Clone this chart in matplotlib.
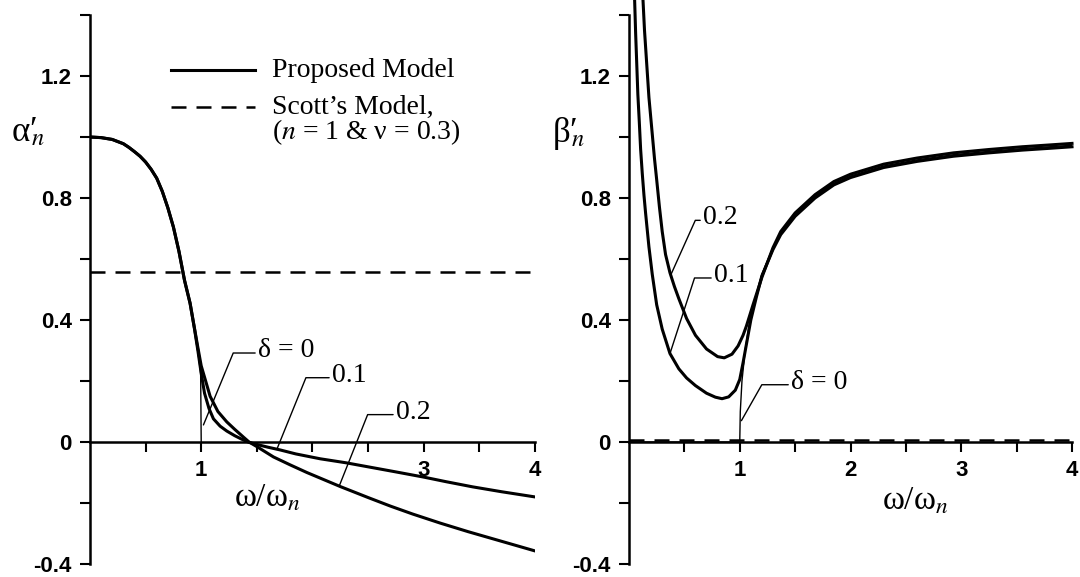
import matplotlib.pyplot as plt

# fonts: Times-like text, Helvetica-like tick numbers
plt.rcParams['font.family'] = 'Liberation Serif'
plt.rcParams['mathtext.fontset'] = 'stix'
SANS = 'Liberation Sans'

# ---- values ----
# left panel, alpha_n' (proposed model, delta = 0, 0.1, 0.2)
w_a0 = [0.0, 0.1, 0.2, 0.3, 0.35, 0.4, 0.45, 0.5, 0.55, 0.6, 0.65, 0.7, 0.75, 0.8, 0.85, 0.9, 0.94,
        0.97, 0.985, 0.995, 1.0]
alpha_d0 = [1.0, 0.998, 0.992, 0.978, 0.966, 0.952, 0.937, 0.918, 0.894, 0.865, 0.822, 0.768, 0.705,
            0.625, 0.53, 0.455, 0.37, 0.295, 0.255, 0.225, 0.0]

w_a1 = [0.0, 0.1, 0.2, 0.3, 0.35, 0.4, 0.45, 0.5, 0.55, 0.6, 0.65, 0.7, 0.75, 0.8, 0.85, 0.9, 0.94,
        0.97, 0.99, 1.0, 1.03, 1.07, 1.11, 1.17, 1.23, 1.3, 1.36, 1.42, 1.5, 1.6, 1.71, 1.85, 2.07, 2.3,
        2.54, 2.75, 3.0, 3.2, 3.44, 3.7, 4.0]
alpha_d1 = [1.0, 0.998, 0.992, 0.978, 0.966, 0.952, 0.937, 0.918, 0.894, 0.865, 0.822, 0.768, 0.705,
            0.625, 0.53, 0.455, 0.37, 0.30, 0.25, 0.225, 0.16, 0.11, 0.076, 0.052, 0.036, 0.021, 0.01,
            0.0, -0.008, -0.017, -0.026, -0.039, -0.055, -0.068, -0.084, -0.098, -0.115, -0.13, -0.147,
            -0.163, -0.18]

w_a2 = [0.0, 0.1, 0.2, 0.3, 0.35, 0.4, 0.45, 0.5, 0.55, 0.6, 0.65, 0.7, 0.75, 0.8, 0.85, 0.9, 0.94,
        0.97, 0.99, 1.0, 1.04, 1.08, 1.15, 1.23, 1.3, 1.38, 1.43, 1.5, 1.65, 1.8, 1.95, 2.1, 2.25, 2.5,
        2.7, 2.9, 3.15, 3.4, 3.6, 3.8, 4.0]
alpha_d2 = [1.0, 0.998, 0.992, 0.978, 0.966, 0.952, 0.937, 0.918, 0.894, 0.865, 0.822, 0.768, 0.705,
            0.625, 0.53, 0.455, 0.372, 0.31, 0.27, 0.25, 0.2, 0.15, 0.1, 0.066, 0.042, 0.016, 0.0,
            -0.015, -0.049, -0.075, -0.1, -0.123, -0.146, -0.182, -0.21, -0.236, -0.266, -0.294,
            -0.315, -0.336, -0.357]

# right panel, beta_n'
w_b0 = [0.0, 1.0, 1.005, 1.02, 1.05, 1.1, 1.15, 1.2, 1.3, 1.37, 1.5, 1.68, 1.85, 2.0, 2.3, 2.6, 2.93,
        3.25, 3.55, 3.8, 4.0]
beta_d0 = [0.0, 0.0, 0.1, 0.2, 0.305, 0.42, 0.48, 0.55, 0.635, 0.685, 0.745, 0.805, 0.848, 0.872, 0.905,
           0.925, 0.942, 0.953, 0.962, 0.968, 0.973]

w_b1 = [0.05, 0.06, 0.07, 0.08, 0.093, 0.105, 0.12, 0.135, 0.15, 0.165, 0.18, 0.21, 0.25, 0.3, 0.37,
        0.45, 0.52, 0.6, 0.7, 0.78, 0.84, 0.9, 0.96, 1.0, 1.03, 1.06, 1.1, 1.15, 1.2, 1.3, 1.37, 1.5,
        1.68, 1.85, 2.0, 2.3, 2.6, 2.93, 3.25, 3.55, 3.8, 4.0]
beta_d1 = [1.46, 1.34, 1.24, 1.14, 1.05, 0.96, 0.88, 0.81, 0.75, 0.695, 0.64, 0.55, 0.45, 0.37, 0.29,
           0.24, 0.21, 0.185, 0.16, 0.147, 0.142, 0.148, 0.17, 0.205, 0.26, 0.32, 0.40, 0.475, 0.545,
           0.631, 0.680, 0.740, 0.800, 0.843, 0.867, 0.900, 0.920, 0.937, 0.948, 0.957, 0.963, 0.968]

w_b2 = [0.125, 0.14, 0.16, 0.18, 0.205, 0.23, 0.25, 0.275, 0.3, 0.33, 0.37, 0.41, 0.45, 0.52, 0.6, 0.7,
        0.8, 0.86, 0.93, 0.985, 1.03, 1.06, 1.12, 1.2, 1.3, 1.37, 1.5, 1.68, 1.85, 2.0, 2.3, 2.6, 2.93,
        3.25, 3.55, 3.8, 4.0]
beta_d2 = [1.46, 1.35, 1.24, 1.13, 1.03, 0.93, 0.86, 0.77, 0.69, 0.615, 0.555, 0.51, 0.47, 0.405, 0.35,
           0.305, 0.28, 0.276, 0.288, 0.315, 0.35, 0.38, 0.45, 0.54, 0.637, 0.690, 0.751, 0.811, 0.854,
           0.878, 0.911, 0.931, 0.948, 0.959, 0.968, 0.974, 0.979]

# Scott's model (constant)
scott_alpha = 0.556
scott_beta = 0.005

# axis ticks
x_major = [1, 2, 3, 4]
x_minor = [0.5, 1.5, 2.5, 3.5]
left_xticklabels = ['1', '', '3', '4']   # the "2" is lost under the curves in the original
right_xticklabels = ['1', '2', '3', '4']
y_major = [-0.4, 0.0, 0.4, 0.8, 1.2]
y_minor = [-0.2, 0.2, 0.6, 1.0, 1.4]
y_ticklabels = ['-0.4', '0', '0.4', '0.8', '1.2']

THICK = 2.2
THIN = 1.0
DASH = (6, 4)
TXT = 20


def style_axes(ax, xticklabels):
    ax.set_xlim(0, 4)
    ax.set_ylim(-0.4, 1.4)
    ax.patch.set_visible(False)
    ax.spines['top'].set_visible(False)
    ax.spines['right'].set_visible(False)
    ax.spines['bottom'].set_position(('data', 0))
    ax.spines['left'].set_linewidth(1.8)
    ax.spines['bottom'].set_linewidth(1.8)
    ax.set_xticks(x_major)
    ax.set_xticklabels(xticklabels)
    ax.set_xticks(x_minor, minor=True)
    ax.set_yticks(y_major)
    ax.set_yticklabels(y_ticklabels)
    ax.set_yticks(y_minor, minor=True)
    ax.tick_params(which='both', direction='out', length=7, width=1.5, color='black')
    ax.tick_params(which='major', labelsize=16, labelfontfamily=SANS, pad=6)
    for lab in ax.get_xticklabels() + ax.get_yticklabels():
        lab.set_fontweight('bold')


def leader(ax, text, point, text_pos, angle):
    ax.annotate(text, xy=point, xytext=text_pos, fontsize=TXT, ha='left', va='center',
                arrowprops=dict(arrowstyle='-', lw=1.0, color='black', shrinkA=0, shrinkB=0,
                                relpos=(0, 0.4),
                                connectionstyle='angle,angleA=0,angleB=%g,rad=0' % angle))


fig = plt.figure(figsize=(10.8, 5.77), dpi=100)
ax1 = fig.add_axes([0.0833, 0.0225, 0.412, 0.9515])
ax2 = fig.add_axes([0.5824, 0.0225, 0.4102, 0.9515])

# ---- left: alpha_n' ----
ax1.plot(w_a1, alpha_d1, color='black', lw=THICK)
ax1.plot(w_a2, alpha_d2, color='black', lw=THICK)
ax1.plot(w_a0, alpha_d0, color='black', lw=THIN)
ax1.axhline(scott_alpha, xmin=0, xmax=1, color='black', lw=1.8, dashes=DASH)
style_axes(ax1, left_xticklabels)
ax1.set_ylabel(r'α′$_{\!\!n}$', rotation=0, fontsize=25, ha='center', va='center')
ax1.yaxis.set_label_coords(-0.14, 0.785)
ax1.set_xlabel(r'ω/ω$_{n}$', fontsize=24, va='center')
ax1.xaxis.set_label_coords(0.398, 0.12)

leader(ax1, 'δ = 0', (1.02, 0.056), (1.51, 0.30), 67.5)
leader(ax1, '0.1', (1.68, -0.024), (2.175, 0.219), 67.9)
leader(ax1, '0.2', (2.24, -0.145), (2.75, 0.098), 68.3)

# legend drawn by hand (key lines + text), as in the original
ax1.plot([0.181, 0.370], [0.899, 0.899], transform=ax1.transAxes, color='black', lw=THICK)
ax1.plot([0.181, 0.370], [0.832, 0.832], transform=ax1.transAxes, color='black', lw=1.8, dashes=DASH)
ax1.text(0.409, 0.899, 'Proposed Model', transform=ax1.transAxes, fontsize=TXT, va='center')
ax1.text(0.409, 0.832, 'Scott\u2019s Model,', transform=ax1.transAxes, fontsize=TXT, va='center')
ax1.text(0.409, 0.786, r'($n$ = 1 & ν = 0.3)', transform=ax1.transAxes, fontsize=TXT, va='center')

# ---- right: beta_n' ----
ax2.plot(w_b1, beta_d1, color='black', lw=THICK, clip_on=False)
ax2.plot(w_b2, beta_d2, color='black', lw=THICK, clip_on=False)
ax2.plot(w_b0, beta_d0, color='black', lw=THIN)
ax2.axhline(scott_beta, xmin=0, xmax=1, color='black', lw=1.8, dashes=DASH)
style_axes(ax2, right_xticklabels)
ax2.set_ylabel(r'β′$_{\!\!n}$', rotation=0, fontsize=25, ha='center', va='center')
ax2.yaxis.set_label_coords(-0.135, 0.785)
ax2.set_xlabel(r'ω/ω$_{n}$', fontsize=24, va='center')
ax2.xaxis.set_label_coords(0.646, 0.115)

leader(ax2, '0.2', (0.38, 0.55), (0.668, 0.735), 65.8)
leader(ax2, '0.1', (0.37, 0.29), (0.767, 0.546), 72.0)
leader(ax2, 'δ = 0', (1.015, 0.07), (1.463, 0.196), 60.4)

plt.savefig('out.png', dpi=100)
